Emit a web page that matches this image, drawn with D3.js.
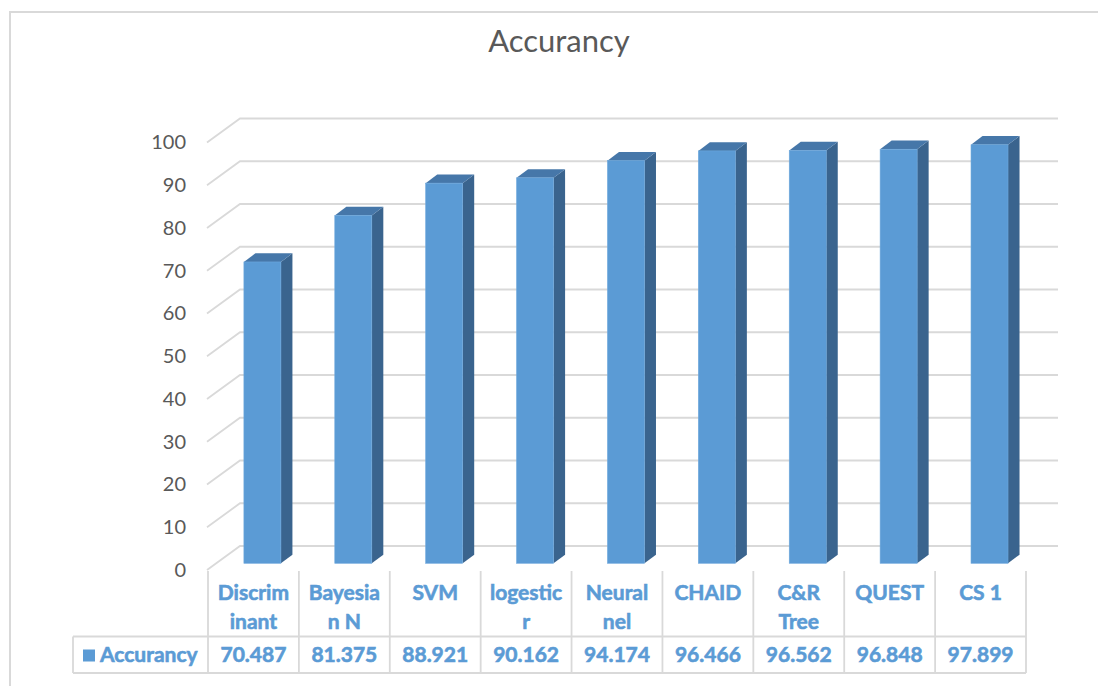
<!DOCTYPE html>
<html>
<head>
<meta charset="utf-8">
<script src="https://cdn.jsdelivr.net/npm/d3@7"></script>
<style>
  body { margin: 0; background: #fff; }
  svg { display: block; font-family: Lato, "Open Sans", sans-serif; }
</style>
</head>
<body>
<svg></svg>
<script>
const width = 1098;
const height = 686;

// chart data
const categories = ['Discrim\ninant', 'Bayesia\nn N', 'SVM', 'logestic\nr', 'Neural\nnel', 'CHAID', 'C&R\nTree', 'QUEST', 'CS 1'];
const values = [70.487, 81.375, 88.921, 90.162, 94.174, 96.466, 96.562, 96.848, 97.899];
const seriesName = 'Accurancy';
const yTicks = [0, 10, 20, 30, 40, 50, 60, 70, 80, 90, 100];

const blue = '#5b9bd5';
const grid = '#d9d9d9';

// fake 3d: depth d in [0,1] moves back/up by (32, -24)
const depthX = 32;
const depthY = 24;
const barHalf = 18.5;
const barD0 = 0.28;
const barD1 = 0.64;

const svg = d3.select('svg')
  .attr('width', width)
  .attr('height', height);

const x = d3.scaleBand()
  .domain(categories)
  .range([208, 1026])
  .padding(0);

const y = d3.scaleLinear()
  .domain([0, 100])
  .range([570, 142.5]);

function proj(px, v, d) {
  return [px + depthX * d, y(v) - depthY * d];
}

// chart border (only top/left show in the frame)
svg.append('path')
  .attr('d', `M10,${height + 5}L10,12L${width + 5},12`)
  .attr('fill', 'none')
  .attr('stroke', grid)
  .attr('stroke-width', 2);

svg.append('text')
  .attr('x', 559)
  .attr('y', 52)
  .attr('text-anchor', 'middle')
  .attr('fill', '#595959')
  .style('font-size', '31px')
  .text(seriesName);

// gridlines: side wall diagonal + back wall line
const [x0, x1] = x.range();
svg.append('g')
  .selectAll('path')
  .data(yTicks)
  .join('path')
  .attr('fill', 'none')
  .attr('stroke', grid)
  .attr('stroke-width', 1.8)
  .attr('d', (t) => {
    const a = proj(x0 - 1, t, 0);
    const b = proj(x0, t, 1);
    const c = proj(x1, t, 1);
    return `M${a}L${b}L${c}`;
  });

const yAxis = svg.append('g')
  .attr('transform', 'translate(207,0)')
  .call(d3.axisLeft(y).tickValues(yTicks).tickSize(0).tickPadding(21));
yAxis.select('.domain').remove();
yAxis.selectAll('text')
  .attr('fill', '#595959')
  .style('font-size', '20px')
  .style('font-family', 'Lato, "Open Sans", sans-serif');

// bars
const bars = svg.append('g')
  .selectAll('g')
  .data(categories.map((c, i) => ({ cat: c, value: values[i] })))
  .join('g');

bars.append('path')
  .attr('fill', '#3a648e')
  .attr('d', (d) => {
    const r = x(d.cat) + x.bandwidth() / 2 + barHalf;
    return 'M' + [proj(r, 0, barD0), proj(r, 0, barD1), proj(r, d.value, barD1), proj(r, d.value, barD0)].join('L') + 'Z';
  });

bars.append('path')
  .attr('fill', '#4677a9')
  .attr('d', (d) => {
    const l = x(d.cat) + x.bandwidth() / 2 - barHalf;
    const r = l + barHalf * 2;
    return 'M' + [proj(l, d.value, barD0), proj(r, d.value, barD0), proj(r, d.value, barD1), proj(l, d.value, barD1)].join('L') + 'Z';
  });

bars.append('rect')
  .attr('fill', blue)
  .attr('stroke', '#6ea8dc')
  .attr('stroke-width', 0.6)
  .attr('x', (d) => proj(x(d.cat) + x.bandwidth() / 2 - barHalf, 0, barD0)[0])
  .attr('y', (d) => proj(0, d.value, barD0)[1])
  .attr('width', barHalf * 2)
  .attr('height', (d) => y(0) - y(d.value));

// data table
const rowTop = 571;
const rowMid = 636.5;
const rowBot = 673;
const legendLeft = 73;
const table = svg.append('g')
  .attr('stroke', grid)
  .attr('stroke-width', 1.8)
  .attr('fill', 'none');

table.selectAll('line.col')
  .data(categories.concat(['end']))
  .join('line')
  .attr('class', 'col')
  .attr('x1', (d, i) => i < categories.length ? x(d) : x1)
  .attr('x2', (d, i) => i < categories.length ? x(d) : x1)
  .attr('y1', rowTop)
  .attr('y2', rowBot);

table.append('path')
  .attr('d', `M${legendLeft},${rowMid}L${x1},${rowMid}M${legendLeft},${rowBot}L${x1},${rowBot}M${legendLeft},${rowMid}L${legendLeft},${rowBot}`);

const cells = svg.append('g')
  .attr('fill', blue)
  .attr('stroke', blue)
  .attr('stroke-width', 0.6)
  .style('font-weight', 'bold')
  .style('font-size', '21px')
  .attr('text-anchor', 'middle');

cells.selectAll('text.cat')
  .data(categories)
  .join('text')
  .attr('class', 'cat')
  .attr('x', (d) => x(d) + x.bandwidth() / 2)
  .attr('y', 600)
  .selectAll('tspan')
  .data((d) => d.split('\n'))
  .join('tspan')
  .attr('x', function () { return d3.select(this.parentNode).attr('x'); })
  .attr('dy', (d, i) => i === 0 ? 0 : 29)
  .text((d) => d);

cells.selectAll('text.val')
  .data(values)
  .join('text')
  .attr('class', 'val')
  .attr('x', (d, i) => x(categories[i]) + x.bandwidth() / 2)
  .attr('y', 662)
  .text((d) => d3.format('.3f')(d));

// legend key
svg.append('rect')
  .attr('x', 83)
  .attr('y', 649.5)
  .attr('width', 12)
  .attr('height', 12)
  .attr('fill', blue);

svg.append('text')
  .attr('x', 100)
  .attr('y', 662)
  .attr('fill', blue)
  .attr('stroke', blue)
  .attr('stroke-width', 0.6)
  .style('font-weight', 'bold')
  .style('font-size', '21px')
  .text(seriesName);
</script>
</body>
</html>
